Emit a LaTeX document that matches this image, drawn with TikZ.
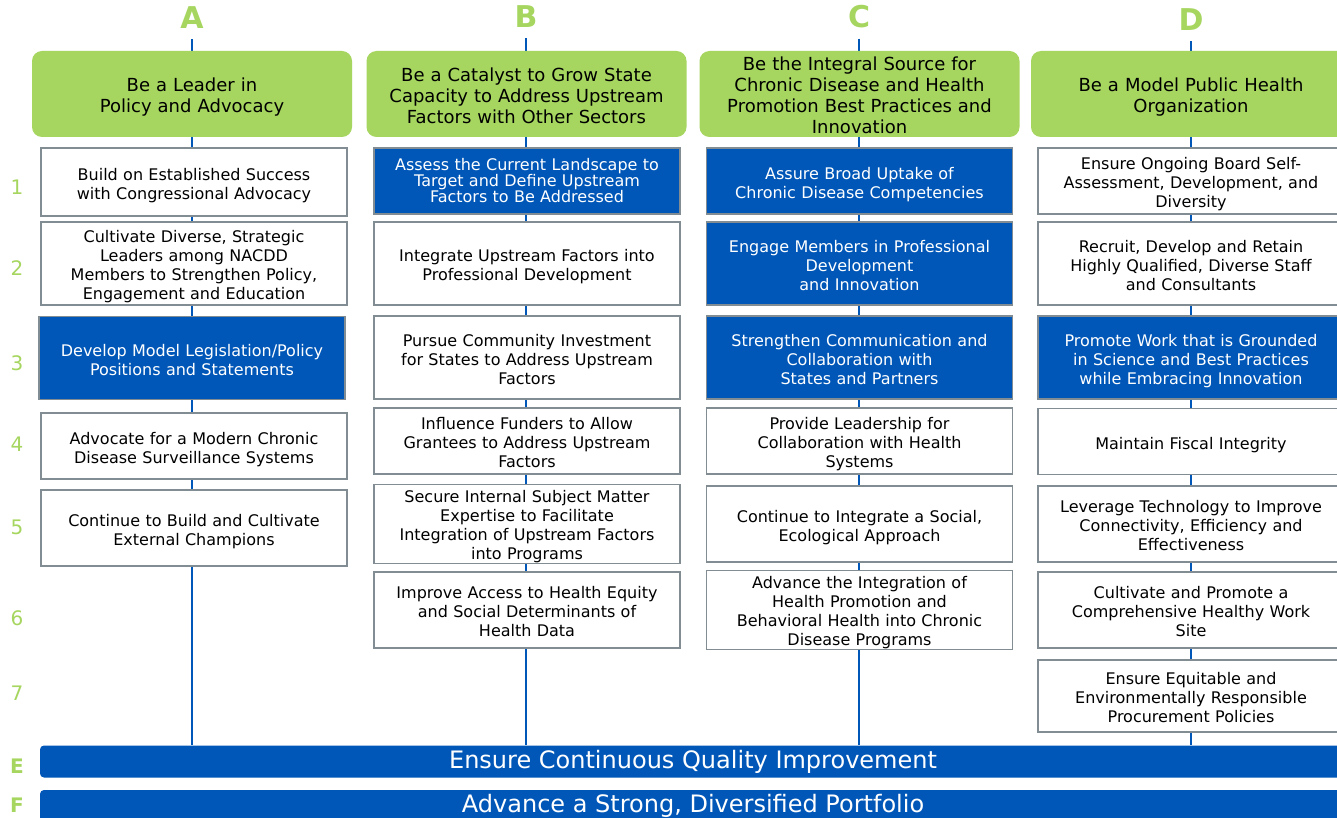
\documentclass[tikz,border=0pt]{standalone}
\usepackage{fontspec}
\setmainfont{DejaVu Sans}
\usetikzlibrary{backgrounds}

\definecolor{leaf}{RGB}{166,214,95}
\definecolor{navy}{RGB}{0,87,184}
\definecolor{frame}{RGB}{130,140,147}

\begin{document}
\begin{tikzpicture}[x=1pt, y=-1pt,
  letter/.style={text=leaf, font=\fontsize{30}{30}\selectfont\bfseries, inner sep=0pt},
  rownum/.style={text=leaf, font=\fontsize{20}{20}\selectfont, inner sep=0pt},
  % fixed first-line height and last-line depth, so text sits the same in every box
  strut top/.store in=\struttop, strut bottom/.store in=\strutbot,
  struts/.style={execute at begin node={\rule{0pt}{\struttop}},
    execute at end node={\rule[-\strutbot]{0pt}{\strutbot}}},
  goal/.style={fill=leaf, rounded corners=10pt, minimum width=320, minimum height=86,
    text width=314pt, align=center, inner sep=2pt, font=\fontsize{18}{21}\selectfont,
    strut top=21pt, strut bottom=4.5pt, struts},
  item/.style={draw=frame, line width=1.6pt, fill=white, minimum width=306,
    text width=300pt, align=center, inner sep=1pt, font=\fontsize{16}{19}\selectfont,
    strut top=19.3pt, strut bottom=4pt, struts},
  focus/.style={item, fill=navy, text=white},
  bar/.style={fill=navy, text=white, rounded corners=4pt, minimum width=1306,
    minimum height=32, inner sep=0pt, font=\fontsize{24}{24}\selectfont},
  spine/.style={navy, line width=2pt}]
\clip (0,0) rectangle (1337,818);

% column letters
\node[letter] (A) at (192,18) {A};
\node[letter] (B) at (526,17) {B};
\node[letter] (C) at (859,17) {C};
\node[letter] (D) at (1191,20) {D};

% row numbers
\node[rownum] (r1) at (17,187) {1};
\node[rownum] (r2) at (17,268) {2};
\node[rownum] (r3) at (17,363) {3};
\node[rownum] (r4) at (17,444) {4};
\node[rownum] (r5) at (17,527) {5};
\node[rownum] (r6) at (17,618) {6};
\node[rownum] (r7) at (17,693) {7};

% goals
\node[goal] (gA) at (192,94) {Be a Leader in\\Policy and Advocacy};
\node[goal] (gB) at (526.5,94) {Be a Catalyst to Grow State\\Capacity to Address Upstream\\Factors with Other Sectors};
\node[goal, strut top=17pt, strut bottom=0.5pt] (gC) at (859.5,94) {Be the Integral Source for\\Chronic Disease and Health\\Promotion Best Practices and\\Innovation};
\node[goal] (gD) at (1191,94) {Be a Model Public Health\\Organization};

% column A
\node[item] (a1) at (194,182) [minimum height=68] {Build on Established Success\\with Congressional Advocacy};
\node[item] (a2) at (194,263.5) [minimum height=83] {Cultivate Diverse, Strategic\\Leaders among NACDD\\Members to Strengthen Policy,\\Engagement and Education};
\node[focus] (a3) at (192,358) [minimum height=83] {Develop Model Legislation/Policy\\Positions and Statements};
\node[item] (a4) at (194,446) [minimum height=66] {Advocate for a Modern Chronic\\Disease Surveillance Systems};
\node[item] (a5) at (194,528) [minimum height=76] {Continue to Build and Cultivate\\External Champions};

% column B
\node[focus, font=\fontsize{16}{16}\selectfont, strut top=14pt, strut bottom=3pt] (b1) at (527,181) [minimum height=66] {Assess the Current Landscape to\\Target and Define Upstream\\Factors to Be Addressed};
\node[item] (b2) at (527,263.5) [minimum height=83] {Integrate Upstream Factors into\\Professional Development};
\node[item] (b3) at (527,357.5) [minimum height=83] {Pursue Community Investment\\for States to Address Upstream\\Factors};
\node[item] (b4) at (527,441) [minimum height=66] {Influence Funders to Allow\\Grantees to Address Upstream\\Factors};
\node[item, strut top=17pt, strut bottom=0pt] (b5) at (527,524) [minimum height=76] {Secure Internal Subject Matter\\Expertise to Facilitate\\Integration of Upstream Factors\\into Programs};
\node[item] (b6) at (527,610) [minimum height=76] {Improve Access to Health Equity\\and Social Determinants of\\Health Data};

% column C
\node[focus] (c1) at (859.5,181) [minimum height=66] {Assure Broad Uptake of\\Chronic Disease Competencies};
\node[focus] (c2) at (859.5,263.5) [minimum height=83] {Engage Members in Professional\\Development\\and Innovation};
\node[focus] (c3) at (859.5,357.5) [minimum height=83] {Strengthen Communication and\\Collaboration with\\States and Partners};
\node[item] (c4) at (859.5,441) [minimum height=66] {Provide Leadership for\\Collaboration with Health\\Systems};
\node[item] (c5) at (859.5,524) [minimum height=76] {Continue to Integrate a Social,\\Ecological Approach};
\node[item, strut top=17pt, strut bottom=0pt] (c6) at (859.5,610) [minimum height=76] {Advance the Integration of\\Health Promotion and\\Behavioral Health into Chronic\\Disease Programs};

% column D
\node[item] (d1) at (1191,181) [minimum height=66] {Ensure Ongoing Board Self-\\Assessment, Development, and\\Diversity};
\node[item] (d2) at (1191,263.5) [minimum height=83] {Recruit, Develop and Retain\\Highly Qualified, Diverse Staff\\and Consultants};
\node[focus] (d3) at (1191,357.5) [minimum height=83] {Promote Work that is Grounded\\in Science and Best Practices\\while Embracing Innovation};
\node[item] (d4) at (1191,441.5) [minimum height=66] {Maintain Fiscal Integrity};
\node[item] (d5) at (1191,524) [minimum height=76] {Leverage Technology to Improve\\Connectivity, Efficiency and\\Effectiveness};
\node[item] (d6) at (1191,610) [minimum height=76] {Cultivate and Promote a\\Comprehensive Healthy Work\\Site};
\node[item] (d7) at (1191,696) [minimum height=72] {Ensure Equitable and\\Environmentally Responsible\\Procurement Policies};

% cross-cutting bars
\node[letter, font=\fontsize{20}{20}\selectfont\bfseries] (E) at (17,766) {E};
\node[letter, font=\fontsize{20}{20}\selectfont\bfseries] (F) at (17,805) {F};
\node[bar] (cqi) at (693,761.5) {Ensure Continuous Quality Improvement};
\node[bar] (port) at (693,806) {Advance a Strong, Diversified Portfolio};

% page and spines behind the boxes
\begin{scope}[on background layer]
\fill[white] (0,0) rectangle (1337,818);
\foreach \c in {A,B,C,D}
  \draw[spine] ([yshift=-10pt]\c.south) -- (\c.south |- cqi.north);
\end{scope}
\end{tikzpicture}
\end{document}
